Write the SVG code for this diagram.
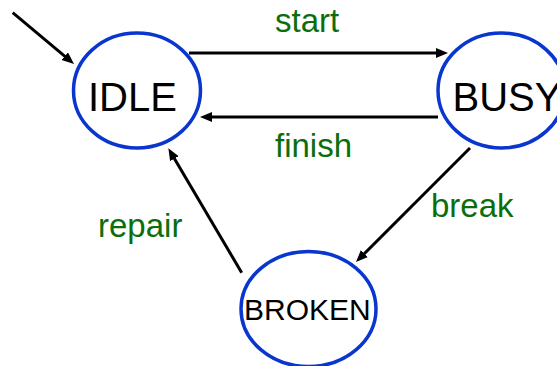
<svg xmlns="http://www.w3.org/2000/svg" width="557" height="366" viewBox="0 0 557 366">
<style>
.state{fill:#fff;stroke:#0a36d0;stroke-width:3.5}
.name{font-family:"Liberation Sans",Arial,sans-serif;fill:#000}
.lbl{font-family:"Liberation Sans",Arial,sans-serif;font-size:33px;fill:#0b6e0b}
.edge{stroke:#000;stroke-width:3;fill:none;marker-end:url(#ah)}
</style>
<defs>
<marker id="ah" markerUnits="userSpaceOnUse" markerWidth="14" markerHeight="12" refX="6" refY="5" orient="auto" viewBox="0 0 14 12">
<path d="M0,0 L12,5 L0,10 z" fill="#000"/>
</marker>
</defs>
<rect width="557" height="366" fill="#fff"/>
<g id="connectors">
<line class="edge" x1="12.7" y1="12.7" x2="69.4" y2="60.1"/>
<line class="edge" x1="189" y1="53" x2="442" y2="53"/>
<line class="edge" x1="438" y1="117" x2="206" y2="117"/>
<line class="edge" x1="470" y1="148" x2="360.2" y2="257.8"/>
<line class="edge" x1="241.7" y1="272.7" x2="171.4" y2="153.5"/>
<text class="lbl" x="275" y="32">start</text>
<text class="lbl" x="275" y="157">finish</text>
<text class="lbl" x="431" y="217">break</text>
<text class="lbl" x="98" y="237">repair</text>
</g>
<g id="idle">
<ellipse class="state" cx="137" cy="90.5" rx="63.5" ry="57.5"/>
<text class="name" x="88" y="110.5" font-size="40">IDLE</text>
</g>
<g id="busy">
<ellipse class="state" cx="501.5" cy="90.5" rx="63.5" ry="57.5"/>
<text class="name" x="452.5" y="110.5" font-size="40">BUSY</text>
</g>
<g id="broken">
<ellipse class="state" cx="308.5" cy="309" rx="67.5" ry="57.5"/>
<text class="name" x="244" y="320" font-size="30">BROKEN</text>
</g>
</svg>
